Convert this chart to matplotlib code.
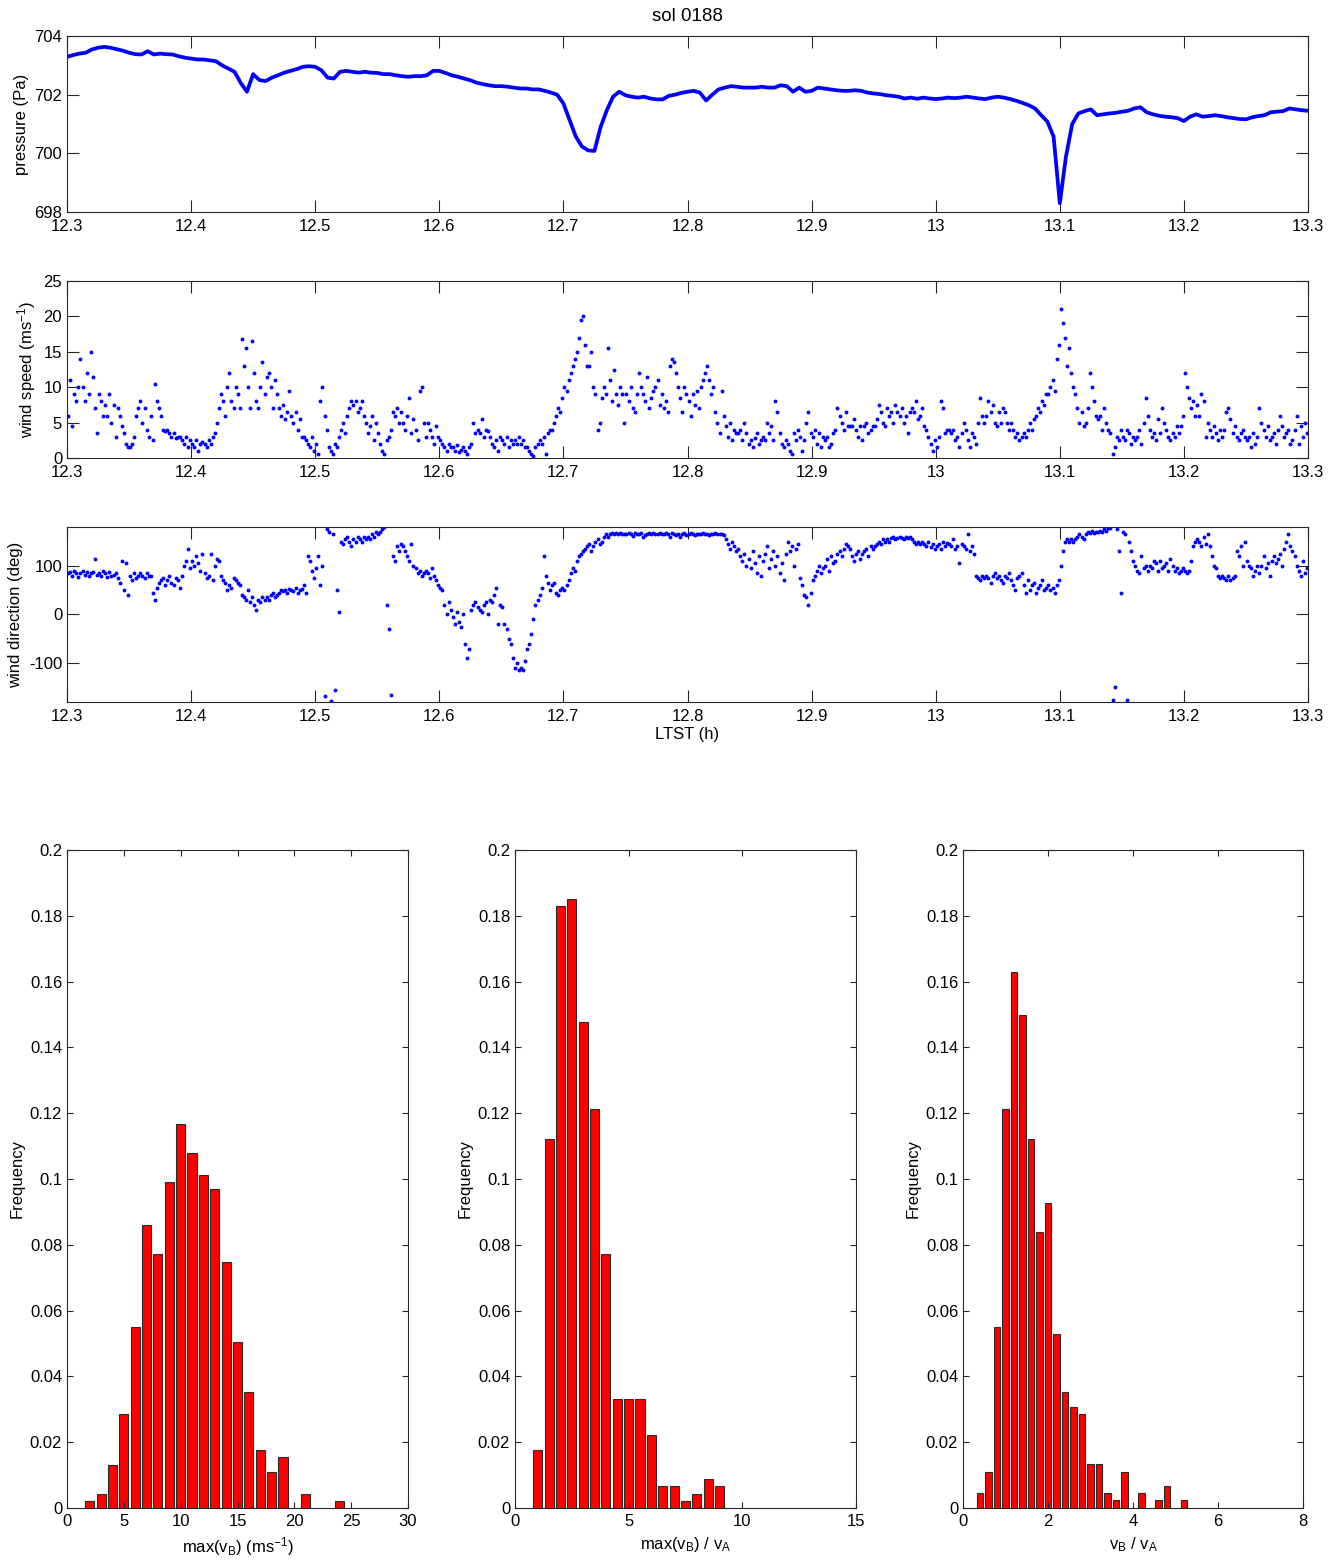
import numpy as np
import matplotlib
matplotlib.use('Agg')
import matplotlib.pyplot as plt
from matplotlib.ticker import FormatStrFormatter

plt.rcParams['font.family'] = ['Liberation Sans', 'DejaVu Sans']
plt.rcParams['mathtext.default'] = 'regular'
plt.rcParams['axes.unicode_minus'] = False

# --- time series, sol 0188 (LTST 12.3 - 13.3 h) ---
t_start = 12.3
p_step = 0.005          # pressure read every 0.005 h
w_step = 0.01 / 6       # wind read 6 values per 0.01 h

pressure = [
    703.29, 703.35, 703.40, 703.43, 703.54, 703.60, 703.63, 703.60, 703.55, 703.50,
    703.43, 703.38, 703.37, 703.48, 703.37, 703.40, 703.38, 703.37, 703.31, 703.26,
    703.23, 703.20, 703.20, 703.17, 703.14, 703.00, 702.89, 702.78, 702.40, 702.10,
    702.70, 702.50, 702.46, 702.58, 702.66, 702.75, 702.81, 702.87, 702.95, 702.97,
    702.95, 702.83, 702.58, 702.55, 702.78, 702.81, 702.78, 702.75, 702.78, 702.75,
    702.74, 702.70, 702.70, 702.66, 702.63, 702.61, 702.63, 702.63, 702.66, 702.81,
    702.81, 702.74, 702.66, 702.61, 702.55, 702.49, 702.41, 702.36, 702.32, 702.29,
    702.29, 702.27, 702.24, 702.21, 702.21, 702.18, 702.18, 702.13, 702.07, 702.00,
    701.70, 701.13, 700.57, 700.23, 700.10, 700.08, 700.90, 701.47, 701.93, 702.10,
    701.98, 701.93, 701.90, 701.93, 701.87, 701.84, 701.84, 701.96, 702.00, 702.06,
    702.10, 702.13, 702.07, 701.80, 702.00, 702.18, 702.24, 702.29, 702.27, 702.24,
    702.24, 702.24, 702.27, 702.24, 702.24, 702.32, 702.29, 702.10, 702.24, 702.10,
    702.13, 702.24, 702.21, 702.18, 702.15, 702.13, 702.13, 702.15, 702.13, 702.07,
    702.04, 702.02, 701.98, 701.96, 701.93, 701.87, 701.90, 701.86, 701.90, 701.87,
    701.85, 701.87, 701.90, 701.88, 701.90, 701.93, 701.90, 701.87, 701.85, 701.90,
    701.93, 701.90, 701.85, 701.79, 701.72, 701.64, 701.53, 701.30, 701.08, 700.57,
    698.30, 699.90, 701.00, 701.36, 701.44, 701.50, 701.30, 701.33, 701.36, 701.38,
    701.42, 701.45, 701.53, 701.57, 701.40, 701.33, 701.28, 701.25, 701.23, 701.20,
    701.10, 701.25, 701.33, 701.25, 701.27, 701.30, 701.27, 701.23, 701.20, 701.17,
    701.16, 701.23, 701.27, 701.30, 701.40, 701.42, 701.44, 701.53, 701.50, 701.47,
    701.45,
]

wind_speed = [
    6, 11, 4.5, 9, 8, 10,  14, 10, 8, 12, 9, 15,  11.5, 7, 3.5, 9, 8, 6,
    7.5, 6, 9, 5, 7.5, 3,  7, 6, 4.5, 3.5, 2, 1.5,  1.5, 2, 3, 6, 7, 8,
    5, 7, 4, 3, 6, 2.5,  10.5, 8, 7, 6, 4, 3.8,  4, 3.5, 3, 3.5, 2.8, 3,
    3, 2.5, 2, 3, 1.5, 2.5,  2, 1.5, 2.5, 1, 2, 2.2,  2, 1.5, 2.5, 2, 3, 3.5,
    5, 7, 9, 8, 6, 10,  12, 8, 7, 10, 9, 7,  16.8, 13, 15.5, 10, 7, 16.5,
    12, 8, 7, 10, 13.5, 9,  11.5, 12, 10, 7, 11, 9,  7, 6, 7.5, 5.5, 6.5, 9.5,
    6, 5, 6.5, 4, 5.5, 3,  3, 2.5, 2, 1.5, 3, 1,  2, 0.5, 8, 10, 6, 4,
    1.5, 1, 0.5, 2, 1.5, 3,  4, 5, 3.5, 6, 7, 8,  7.5, 8, 6.5, 7, 8, 6,
    5, 3.5, 4.5, 6, 2.5, 5,  3.5, 2, 1, 0.5, 2.5, 3,  4, 6.5, 6, 7, 5, 6.5,
    5, 4, 6, 8.5, 3.5, 5.5,  4, 2.5, 9.5, 10, 5, 3,  5, 4, 3, 2, 4.5, 3,
    2.5, 2, 1.5, 1, 2, 1.5,  1.5, 1, 1.8, 0.8, 1.2, 1.5,  1, 0.5, 1.5, 2, 5, 3.5,
    4, 3.5, 5.5, 3, 4, 3.8,  3, 2, 1.5, 2.5, 1, 3,  2.5, 2, 3, 1.5, 2.5, 2,
    2.5, 2, 3, 2, 2.5, 1.5,  1.5, 1, 0.5, 0.3, 1.5, 2,  2.5, 2, 3, 0.5, 3.5, 4,
    4, 5, 6, 7, 6.5, 8.5,  10, 9.5, 11, 12, 13, 14,  15, 17, 19.5, 20, 16, 13,
    13, 15, 10, 9, 4, 5,  8.5, 10, 9, 15.5, 11, 8,  12.5, 9, 7.5, 10, 9, 5,
    9, 8, 10, 7, 6.5, 9,  12, 10, 9, 8, 11.5, 7,  8.5, 9.5, 10, 11, 7.5, 9,
    7, 8, 6.5, 13, 14, 13.5,  12, 10, 8.5, 6.5, 10, 9,  8, 6, 9, 7.5, 9.5, 7,
    10, 11, 12, 13, 11, 9,  10, 6.5, 5, 3.5, 9.5, 6,  4.5, 3, 5, 2.5, 4, 3.5,
    3.5, 4, 2.5, 5, 3.5, 2,  2.5, 1.5, 2.8, 3.5, 2, 2.5,  3, 2.5, 5, 3.5, 4.5, 2.5,
    8, 6.5, 3.5, 2, 1.5, 2.5,  2, 1, 0.5, 3.5, 2.5, 4,  3, 1, 2.5, 5, 6.5, 3.5,
    3, 4, 2, 3.5, 1.5, 3,  2.5, 3, 1.5, 2, 3.5, 4,  7, 6, 5, 4, 6.5, 4.5,
    4.5, 4.5, 5.5, 4, 3, 4.5,  2.5, 4.5, 5, 3.5, 4, 4.5,  4.5, 5.5, 7.5, 6.5, 5, 4.5,
    7, 6, 6.5, 5, 7.5, 6.5,  6, 7, 5, 6, 3.5, 6.5,  7, 6.5, 8, 5.5, 6, 7,
    4.5, 4, 3, 2, 1, 2.5,  1.5, 3, 8, 7, 3.5, 4,  4, 3.5, 4, 2.5, 3, 1.5,
    3.5, 5, 4, 2.5, 1.5, 3.5,  3, 2, 5, 8.5, 6, 5,  6, 8, 6.5, 7.5, 5, 4.5,
    6.5, 5, 7, 6.5, 5, 4,  5, 4, 3, 3.5, 2.5, 3,  3.5, 3, 4, 5, 4, 5.5,
    6, 7, 6.5, 8, 7.5, 9,  9, 10, 11, 9.5, 14, 16,  21, 19, 17, 13, 15.5, 12,
    10, 9, 7, 5, 6.5, 4.5,  5, 7, 12, 10, 8, 6,  5.5, 6, 4, 7, 5, 4,
    3.5, 0.5, 1.5, 3, 2.5, 4,  3, 2.5, 4, 3.5, 2, 3,  2.5, 3, 4, 2, 5, 8.5,
    6, 4, 3, 3.5, 2.5, 5.5,  3.5, 7, 5, 4, 3, 2.5,  3.5, 3, 4.5, 3.5, 4.5, 6,
    12, 10, 8.5, 7, 8, 6,  7.5, 6, 9, 8, 3, 5,  4, 3, 4.5, 3.5, 2.5, 4,
    3, 4, 6.5, 7, 5.5, 3.5,  4.5, 3, 2.5, 3.5, 4, 3,  2.5, 3, 1.5, 3.5, 2, 3,
    7, 5, 4, 3, 4.5, 2.5,  3, 3.5, 2, 4, 6, 4.5,  3, 3.5, 4, 2, 2.5, 4,
    6, 2, 4.5, 3, 5, 3.5,
]

wind_dir = [
    85, 88, 80, 90, 85, 78,  85, 90, 82, 88, 80, 85,  88, 115, 82, 85, 80, 90,
    85, 78, 88, 80, 82, 85,  75, 65, 110, 50, 105, 40,  80, 70, 85, 75, 80, 85,
    80, 75, 85, 80, 80, 45,  30, 55, 65, 70, 75, 60,  70, 80, 65, 60, 75, 70,
    55, 80, 100, 110, 135, 95,  110, 100, 120, 105, 90, 125,  85, 75, 80, 125, 70, 100,
    115, 110, 80, 70, 65, 50,  60, 55, 75, 70, 65, 60,  40, 35, 30, 50, 25, 35,
    20, 10, 30, 25, 35, 30,  35, 30, 40, 45, 35, 40,  45, 50, 48, 50, 45, 52,
    50, 48, 55, 45, 50, 52,  60, 45, 120, 110, 90, 75,  95, 120, 60, 100, -168, 175,
    170, -178, 165, -156, 50, 5,  150, 145, 155, 160, 150, 140,  155, 150, 160, 155, 150, 160,
    155, 160, 155, 165, 160, 170,  165, 170, 175, 180, 20, -30,  -165, 120, 110, 140, 130, 145,
    140, 130, 120, 110, 145, 100,  95, 85, 90, 80, 85, 90,  85, 75, 95, 80, 70, 60,
    55, 50, 20, 0, 25, 10,  -5, -20, 5, -15, -25, 0,  -60, -90, -70, 10, 20, 25,
    15, 10, 5, 20, 25, 0,  30, 25, 40, 55, -20, 20,  15, -20, -30, -50, -60, -90,
    -110, -100, -115, -110, -115, -95,  -70, -60, -40, -10, 20, 30,  40, 55, 120, 80, 65, 50,
    60, 65, 45, 40, 50, 55,  50, 60, 70, 85, 95, 90,  110, 120, 125, 130, 135, 140,
    145, 130, 140, 150, 155, 145,  150, 160, 165, 160, 165, 168,  165, 168, 165, 168, 165, 166,
    166, 168, 165, 162, 168, 165,  165, 168, 160, 163, 165, 168,  165, 168, 166, 165, 168, 166,
    165, 168, 165, 160, 168, 165,  163, 165, 160, 165, 168, 163,  165, 168, 165, 163, 166, 165,
    165, 168, 165, 166, 163, 165,  165, 168, 165, 166, 165, 163,  155, 145, 135, 150, 140, 130,
    135, 120, 110, 125, 100, 115,  95, 130, 105, 85, 120, 80,  110, 125, 140, 95, 115, 130,
    100, 120, 85, 105, 70, 125,  150, 130, 140, 100, 135, 145,  75, 60, 40, 35, 20, 45,
    70, 80, 90, 100, 85, 95,  100, 115, 90, 120, 105, 110,  125, 130, 120, 135, 145, 140,
    135, 120, 110, 125, 130, 115,  125, 130, 135, 120, 140, 135,  140, 145, 150, 145, 155, 150,
    155, 150, 158, 160, 155, 158,  160, 158, 155, 160, 158, 160,  155, 150, 145, 150, 145, 150,
    145, 140, 150, 138, 145, 135,  140, 145, 135, 150, 140, 148,  145, 140, 155, 135, 140, 105,
    145, 140, 135, 165, 130, 140,  125, 80, 75, 70, 80, 75,  80, 75, 65, 80, 85, 75,
    80, 70, 65, 80, 75, 85,  70, 60, 50, 75, 80, 85,  60, 45, 70, 50, 60, 65,
    45, 55, 60, 70, 50, 55,  60, 50, 55, 45, 60, 70,  100, 130, 150, 155, 150, 155,
    150, 155, 160, 165, 160, 155,  165, 170, 168, 172, 168, 170,  170, 172, 170, 175, 172, 178,
    178, -175, -150, 175, 130, 45,  170, 165, -175, 150, 130, 110,  100, 90, 85, 120, 95, 100,
    90, 100, 95, 110, 105, 90,  110, 95, 100, 105, 90, 115,  100, 90, 95, 85, 90, 95,
    90, 85, 90, 110, 140, 150,  155, 150, 140, 160, 145, 165,  140, 120, 100, 95, 80, 75,
    80, 75, 70, 80, 70, 75,  80, 130, 120, 140, 100, 150,  110, 100, 95, 80, 90, 100,
    85, 100, 120, 95, 105, 80,  110, 120, 105, 115, 125, 100,  135, 150, 165, 140, 130, 120,
    100, 90, 80, 110, 85, 95,
]

# --- histograms ---
vb_centers = [2, 3, 4, 5, 6, 7, 8, 9, 10, 11, 12, 13, 14, 15, 16, 17, 18, 19, 21, 24]
vb_freq = [0.0022, 0.0044, 0.0132, 0.0287, 0.0551, 0.0860, 0.0771, 0.0991, 0.1168, 0.1079,
           0.1013, 0.0969, 0.0749, 0.0506, 0.0352, 0.0177, 0.0110, 0.0155, 0.0044, 0.0022]

ratio_max_centers = [1.0, 1.5, 2.0, 2.5, 3.0, 3.5, 4.0, 4.5, 5.0, 5.5, 6.0, 6.5, 7.0, 7.5, 8.0, 8.5, 9.0]
ratio_max_freq = [0.0177, 0.1123, 0.1830, 0.1851, 0.1478, 0.1212, 0.0771, 0.0332, 0.0332,
                  0.0332, 0.0221, 0.0066, 0.0066, 0.0022, 0.0044, 0.0088, 0.0066]

ratio_centers = [0.4, 0.6, 0.8, 1.0, 1.2, 1.4, 1.6, 1.8, 2.0, 2.2, 2.4, 2.6, 2.8, 3.0, 3.2,
                 3.4, 3.6, 3.8, 4.2, 4.6, 4.8, 5.2]
ratio_freq = [0.0045, 0.0110, 0.0550, 0.1212, 0.1630, 0.1500, 0.1123, 0.0839, 0.0926, 0.0529,
              0.0352, 0.0308, 0.0287, 0.0133, 0.0133, 0.0045, 0.0023, 0.0110, 0.0045, 0.0023,
              0.0066, 0.0023]

t_p = t_start + p_step * np.arange(len(pressure))
t_w = t_start + w_step * (np.arange(len(wind_speed)) + 0.5)
t_d = t_start + w_step * (np.arange(len(wind_dir)) + 0.5)

W, H = 1339, 1560
fig = plt.figure(figsize=(W / 100, H / 100), dpi=100)


def box(l, t, r, b):
    return [l / W, 1 - b / H, (r - l) / W, (b - t) / H]


def matlab_style(ax, ticklen, xpad=3.5):
    ax.tick_params(direction='in', top=True, right=True, length=ticklen, width=0.8,
                   color='#262626', labelsize=12, labelcolor='black')
    ax.tick_params(axis='x', pad=xpad)
    for s in ax.spines.values():
        s.set_color('#262626')
        s.set_linewidth(0.8)


blue = '#0000ff'
xt = [12.3, 12.4, 12.5, 12.6, 12.7, 12.8, 12.9, 13.0, 13.1, 13.2, 13.3]

# pressure
ax1 = fig.add_axes(box(67, 36, 1308, 212))
ax1.plot(t_p, pressure, color=blue, lw=2.7)
ax1.set_ylim(698, 704)
ax1.set_yticks([698, 700, 702, 704])
ax1.set_ylabel('pressure (Pa)', fontsize=12)
ax1.set_title('sol 0188', fontsize=13.5, pad=11)

# wind speed
ax2 = fig.add_axes(box(67, 281, 1308, 458))
ax2.plot(t_w, wind_speed, 'o', color=blue, ms=2.8, mew=0)
ax2.set_ylim(0, 25)
ax2.set_yticks([0, 5, 10, 15, 20, 25])
ax2.set_ylabel('wind speed (ms$^{-1}$)', fontsize=12)

# wind direction
ax3 = fig.add_axes(box(67, 527, 1308, 702))
ax3.plot(t_d, wind_dir, 'o', color=blue, ms=2.8, mew=0)
ax3.set_ylim(-180, 180)
ax3.set_yticks([-100, 0, 100])
ax3.set_ylabel('wind direction (deg)', fontsize=12)
ax3.set_xlabel('LTST (h)', fontsize=12, labelpad=2)

for ax in (ax1, ax2, ax3):
    ax.set_xlim(12.3, 13.3)
    ax.set_xticks(xt)
    ax.xaxis.set_major_formatter(FormatStrFormatter('%g'))
    matlab_style(ax, 8.5, xpad=5)

# histograms
hists = [
    (67, 408, vb_centers, vb_freq, 1.0, (0, 30), [0, 5, 10, 15, 20, 25, 30], 'max(v$_B$) (ms$^{-1}$)'),
    (515, 856, ratio_max_centers, ratio_max_freq, 0.5, (0, 15), [0, 5, 10, 15], 'max(v$_B$) / v$_A$'),
    (963, 1303, ratio_centers, ratio_freq, 0.2, (0, 8), [0, 2, 4, 6, 8], 'v$_B$ / v$_A$'),
]
for l, r, cx, fy, bw, xl, xtk, lab in hists:
    ax = fig.add_axes(box(l, 850, r, 1508))
    ax.bar(cx, fy, width=0.8 * bw, color='#ff0000', edgecolor='#2a2a2a', linewidth=0.8)
    ax.set_xlim(*xl)
    ax.set_xticks(xtk)
    ax.set_ylim(0, 0.2)
    ax.set_yticks(np.arange(0, 0.201, 0.02))
    ax.yaxis.set_major_formatter(FormatStrFormatter('%g'))
    ax.set_xlabel(lab, fontsize=12)
    ax.set_ylabel('Frequency', fontsize=12)
    matlab_style(ax, 4.2, xpad=4.5)

fig.savefig('out.png', dpi=100)
